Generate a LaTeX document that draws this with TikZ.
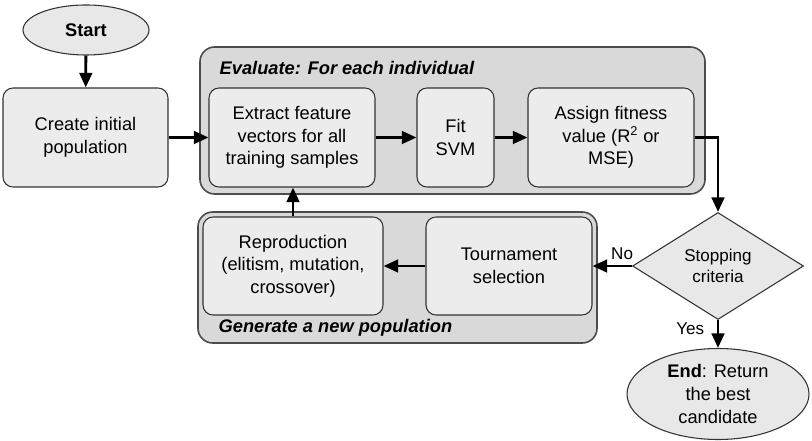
\documentclass[tikz,border=0pt]{standalone}
\usepackage{fontspec}
\setmainfont{Liberation Sans}
\usetikzlibrary{shapes,shapes.geometric,arrows.meta,positioning}

\tikzset{
    stepbox/.style={draw=black!80, line width=0.8pt, fill=gray!15, rounded corners=7.5pt, align=center, inner sep=0pt},
    groupbox/.style={draw=black!70, line width=1.2pt, fill=gray!30, rounded corners=11pt, inner sep=0pt},
    termnode/.style={draw=black!80, line width=0.8pt, fill=gray!18, ellipse, align=center, inner sep=0pt},
    flow/.style={line width=2.1pt, -{Triangle[length=11pt, width=9.5pt]}}
}

\begin{document}
\begin{tikzpicture}[x=0.75pt, y=-0.75pt, font=\fontsize{13.7}{17}\selectfont]
    \useasboundingbox (0,0) rectangle (812,441);

    % Group boxes
    \node[groupbox, minimum width=378.75pt, minimum height=110.25pt] (eval) at (452.5,120.5) {};
    \node[groupbox, minimum width=299.25pt, minimum height=98.25pt] (gen) at (397.5,277.5) {};
    \node[anchor=west, font=\fontsize{13.7}{17}\selectfont\bfseries\itshape] (evaltitle) at (215,68) {Evaluate: For each individual};
    \node[anchor=west, font=\fontsize{13.7}{17}\selectfont\bfseries\itshape] (gentitle) at (214,328) {Generate a new population};

    % Start and first step
    \node[termnode, minimum width=94.5pt, minimum height=37.5pt] (start) at (86,30) {\textbf{Start}};
    \node[stepbox, minimum width=123.75pt, minimum height=74.25pt] (create) at (85.5,137.5) {Create initial\\population};

    % Evaluation steps
    \node[stepbox, minimum width=124.5pt, minimum height=74.25pt] (extract) at (292,137.5) {Extract feature\\vectors for all\\training samples};
    \node[stepbox, minimum width=57.75pt, minimum height=74.25pt] (fit) at (455.5,137.5) {Fit\\SVM};
    \node[stepbox, minimum width=124.5pt, minimum height=74.25pt] (assign) at (611,137.5) {Assign fitness\\value (R\textsuperscript{2} or\\MSE)};

    % New population steps
    \node[stepbox, minimum width=135pt, minimum height=73.5pt] (repro) at (293,266) {Reproduction\\(elitism, mutation,\\crossover)};
    \node[stepbox, minimum width=124.5pt, minimum height=73.5pt] (tourn) at (509,266) {Tournament\\selection};

    % Decision and end
    \node[draw=black!80, line width=0.8pt, fill=gray!18, diamond, minimum width=128.25pt, minimum height=80.25pt, inner sep=0pt, align=center, font=\fontsize{12.8}{15.5}\selectfont] (stop) at (718,266) {Stopping\\criteria};
    \node[termnode, minimum width=136.5pt, minimum height=68.25pt] (end) at (718,394) {\textbf{End}: Return\\the best\\candidate};

    % Connectors
    \draw[flow] (start) -- (create);
    \draw[flow] (create) -- (extract);
    \draw[flow] (extract) -- (fit);
    \draw[flow] (fit) -- (assign);
    \draw[flow] (assign.east) -| (stop.north);
    \draw[flow] (stop.west) -- (tourn.east) node[pos=0.25, above, font=\fontsize{12.8}{15.5}\selectfont] {No};
    \draw[flow] (tourn) -- (repro);
    \draw[flow] (repro.north) -- (repro.north |- extract.south);
    \draw[flow] (stop.south) -- (end.north) node[pos=0.3, left=6pt, font=\fontsize{12.8}{15.5}\selectfont] {Yes};
\end{tikzpicture}
\end{document}
